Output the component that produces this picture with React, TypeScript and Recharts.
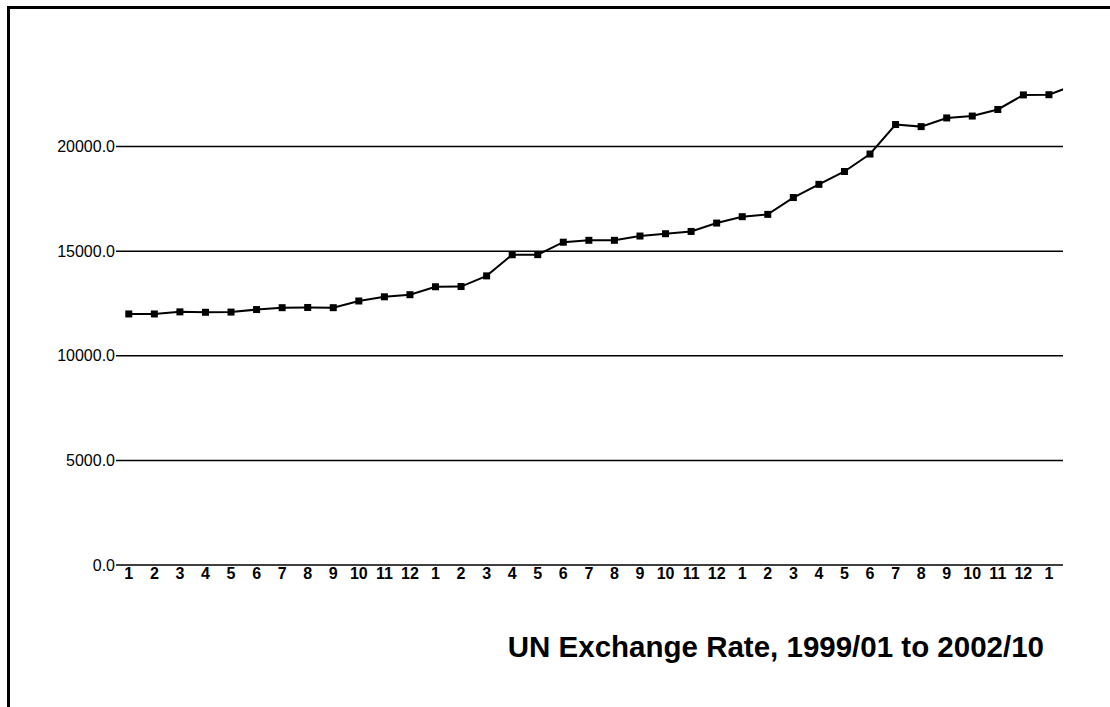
import { Line, LineChart, ReferenceLine, XAxis, YAxis } from "recharts";

// month labels along the bottom (Jan 1999 .. Jan 2002)
const monthLabels = [
  "1", "2", "3", "4", "5", "6", "7", "8", "9", "10", "11", "12",
  "1", "2", "3", "4", "5", "6", "7", "8", "9", "10", "11", "12",
  "1", "2", "3", "4", "5", "6", "7", "8", "9", "10", "11", "12",
  "1",
];

// monthly rate; last value runs off the right edge of the plot
const rates = [
  12000, 12000, 12100, 12080, 12090, 12210, 12300, 12310, 12300, 12620, 12820, 12920,
  13300, 13310, 13820, 14830, 14835, 15430, 15520, 15520, 15725, 15835, 15945, 16345,
  16650, 16760, 17565, 18195, 18810, 19645, 21055, 20955, 21370, 21460, 21775, 22470,
  22480, 22950,
];

const yTicks = [0, 5000, 10000, 15000, 20000];

const data = rates.map((rate, i) => ({ idx: i, rate }));
const xTicks = monthLabels.map((_, i) => i);

const FONT = '"Liberation Sans", Arial, sans-serif';

function SquareDot(props: any) {
  const { cx, cy, index } = props;
  if (cx == null || cy == null) return <g key={`d-${index}`} />;
  return <rect key={`d-${index}`} x={cx - 3.5} y={cy - 3.5} width={7} height={7} fill="#000" />;
}

export default function App() {
  return (
    <div style={{ position: "fixed", inset: 0, overflow: "hidden", background: "#fff" }}>
      <div
        style={{
          position: "absolute",
          left: 7,
          top: 6,
          width: 1200,
          height: 800,
          borderTop: "3px solid #000",
          borderLeft: "3px solid #000",
        }}
      />
      <div style={{ position: "absolute", left: 0, top: 0 }}>
        <LineChart
          width={1110}
          height={707}
          data={data}
          margin={{ top: 42, right: 47, bottom: 112, left: 0 }}
        >
          <XAxis
            dataKey="idx"
            type="number"
            domain={[-0.5, 36.55]}
            allowDataOverflow
            ticks={xTicks}
            interval={0}
            tickFormatter={(v: number) => monthLabels[v] ?? ""}
            axisLine={false}
            tickLine={false}
            tickSize={0}
            tickMargin={3}
            height={30}
            tick={{ fontSize: 16, fontWeight: "bold", fill: "#000", fontFamily: FONT }}
          />
          <YAxis
            domain={[0, 25000]}
            ticks={yTicks}
            allowDataOverflow
            axisLine={false}
            tickLine={false}
            tickSize={0}
            tickMargin={1}
            width={116}
            tickFormatter={(v: number) => v.toFixed(1)}
            tick={{ fontSize: 16, fill: "#000", fontFamily: FONT }}
          />
          {yTicks.map((t) => (
            <ReferenceLine key={t} y={t} stroke="#000" strokeWidth={1.5} />
          ))}
          <Line
            type="linear"
            dataKey="rate"
            stroke="#000"
            strokeWidth={2}
            dot={SquareDot}
            activeDot={false}
            isAnimationActive={false}
          />
        </LineChart>
      </div>
      <svg
        width={1110}
        height={707}
        style={{ position: "absolute", left: 0, top: 0, pointerEvents: "none" }}
      >
        <text
          x={1044}
          y={657}
          textAnchor="end"
          fontFamily={FONT}
          fontWeight="bold"
          fontSize={29.5}
          fill="#000"
        >
          UN Exchange Rate, 1999/01 to 2002/10
        </text>
      </svg>
    </div>
  );
}
